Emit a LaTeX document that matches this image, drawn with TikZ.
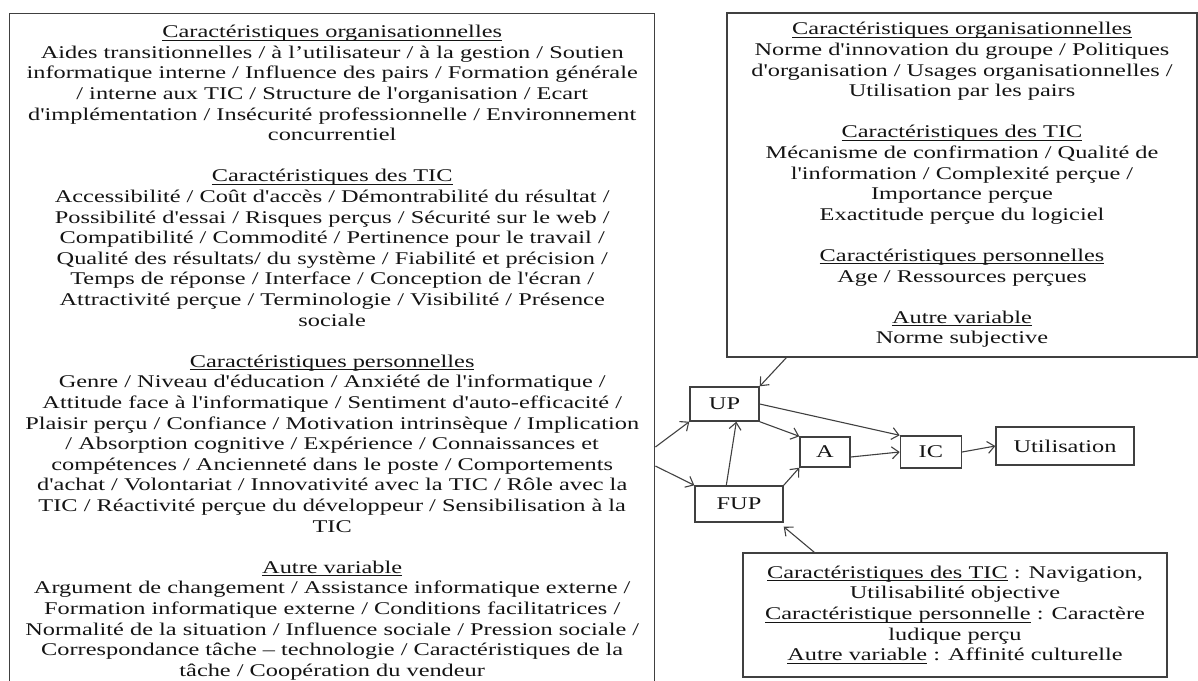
\documentclass[tikz,border=0pt]{standalone}
\usepackage{amsmath}
\usepackage{fontspec}
\setmainfont{Liberation Serif}[FakeStretch=1.36,Ligatures=TeXOff]
\usetikzlibrary{arrows.meta,calc,positioning}
\newcommand{\titre}[1]{\underline{\smash[b]{#1}}}

\begin{document}
\begin{tikzpicture}[
  x=1pt, y=-1pt,
  >={Straight Barb[length=7pt,width=12pt]},
  every node/.style={font=\fontsize{17.9pt}{20.6pt}\selectfont, text=black!92},
  bloc/.style={draw=black!75, line width=1.4pt, align=center, inner sep=0pt},
  var/.style={draw=black!75, line width=1.4pt, inner sep=0pt},
  fleche/.style={->, line width=1.1pt, draw=black!75}
]
  \path[use as bounding box, clip] (0,0) rectangle (1198,680);

  % facteurs externes
  \node[bloc, anchor=north west, minimum width=645pt, minimum height=678pt] (gauche) at (9,13) {%
    \titre{Caractéristiques organisationnelles}\\
    Aides transitionnelles / à l’utilisateur / à la gestion / Soutien\\
    informatique interne / Influence des pairs / Formation générale\\
    / interne aux TIC / Structure de l'organisation / Ecart\\
    d'implémentation / Insécurité professionnelle / Environnement\\
    concurrentiel\\[20.6pt]
    \titre{Caractéristiques des TIC}\\
    Accessibilité / Coût d'accès / Démontrabilité du résultat /\\
    Possibilité d'essai / Risques perçus / Sécurité sur le web /\\
    Compatibilité / Commodité / Pertinence pour le travail /\\
    Qualité des résultats/ du système / Fiabilité et précision /\\
    Temps de réponse / Interface / Conception de l'écran /\\
    Attractivité perçue / Terminologie / Visibilité / Présence\\
    sociale\\[20.6pt]
    \titre{Caractéristiques personnelles}\\
    Genre / Niveau d'éducation / Anxiété de l'informatique /\\
    Attitude face à l'informatique / Sentiment d'auto-efficacité /\\
    Plaisir perçu / Confiance / Motivation intrinsèque / Implication\\
    / Absorption cognitive / Expérience / Connaissances et\\
    compétences / Ancienneté dans le poste / Comportements\\
    d'achat / Volontariat / Innovativité avec la TIC / Rôle avec la\\
    TIC / Réactivité perçue du développeur / Sensibilisation à la\\
    TIC\\[20.6pt]
    \titre{Autre variable}\\
    Argument de changement / Assistance informatique externe /\\
    Formation informatique externe / Conditions facilitatrices /\\
    Normalité de la situation / Influence sociale / Pression sociale /\\
    Correspondance tâche – technologie / Caractéristiques de la\\
    tâche / Coopération du vendeur};
  \node[bloc, minimum width=470pt, minimum height=344pt] (haut) at (962,185) {%
    \titre{Caractéristiques organisationnelles}\\
    Norme d'innovation du groupe / Politiques\\
    d'organisation / Usages organisationnelles /\\
    Utilisation par les pairs\\[20.6pt]
    \titre{Caractéristiques des TIC}\\
    Mécanisme de confirmation / Qualité de\\
    l'information / Complexité perçue /\\
    Importance perçue\\
    Exactitude perçue du logiciel\\[20.6pt]
    \titre{Caractéristiques personnelles}\\
    Age / Ressources perçues\\[20.6pt]
    \titre{Autre variable}\\
    Norme subjective};
  \node[bloc, minimum width=424pt, minimum height=124pt] (bas) at (955,615) {%
    \titre{Caractéristiques des TIC} : Navigation,\\
    Utilisabilité objective\\
    \titre{Caractéristique personnelle} : Caractère\\
    ludique perçu\\
    \titre{Autre variable} : Affinité culturelle};

  % modele
  \node[var, minimum width=69pt, minimum height=34pt] (UP) at (724.5,404) {UP};
  \node[var, minimum width=88pt, minimum height=36pt] (FUP) at (739,504) {FUP};
  \node[var, minimum width=50pt, minimum height=30pt] (A) at (825,452) {A};
  \node[var, minimum width=61pt, minimum height=32pt, right=49pt of A] (IC) {IC};
  \node[var, minimum width=138pt, minimum height=38pt] (util) at (1065,446) {Utilisation};

  \coordinate (g1) at ($(gauche.north east)+(0,434)$);
  \coordinate (g2) at ($(gauche.north east)+(0,453)$);

  \draw[fleche] (g1) -- (UP.south west);
  \draw[fleche] (g2) -- (FUP.north west);
  \draw[fleche] ($(haut.south west)+(60,0)$) -- (UP.north east);
  \draw[fleche] ($(bas.north west)+(72,0)$) -- ($(FUP.south east)+(0,4)$);
  \draw[fleche] ($(FUP.north west)+(32,0)$) -- ($(UP.south west)+(47,0)$);
  \draw[fleche] (UP.south east) -- (A.north west);
  \draw[fleche] (FUP.north east) -- (A.south west);
  \draw[fleche] (UP.east) -- (IC.north west);
  \draw[fleche] ($(A.east)+(0,5)$) -- (IC.west);
  \draw[fleche] (IC.east) -- (util.west);
\end{tikzpicture}
\end{document}
